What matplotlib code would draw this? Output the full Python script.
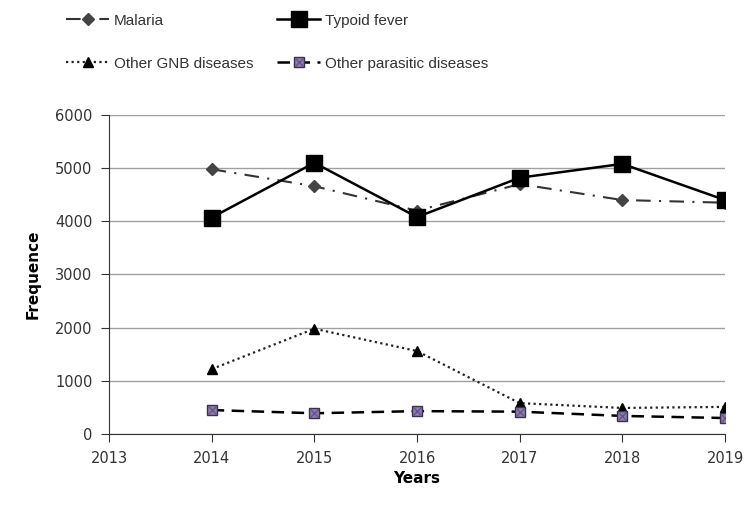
import matplotlib.pyplot as plt
from matplotlib.legend_handler import HandlerTuple

years = [2014, 2015, 2016, 2017, 2018, 2019]
malaria = [4980, 4660, 4200, 4700, 4400, 4350]
typhoid = [4070, 5100, 4080, 4820, 5080, 4400]
gnb = [1220, 1980, 1560, 580, 490, 510]
parasitic = [450, 390, 430, 420, 340, 300]

plt.rcParams['font.family'] = 'DejaVu Sans'

fig = plt.figure(figsize=(7.49, 5.11), dpi=100)
ax = fig.add_axes([0.1455, 0.1507, 0.8225, 0.6243])

l_mal, = ax.plot(years, malaria, color='#333333', lw=1.5, ls=(0, (7, 4, 1, 4)),
                 marker='D', ms=6, mfc='#444444', mec='#444444', label='Malaria')
l_typ, = ax.plot(years, typhoid, color='black', lw=1.8,
                 marker='s', ms=12, mfc='black', mec='black', label='Typoid fever')
l_gnb, = ax.plot(years, gnb, color='#222222', lw=1.6, ls=(0, (1, 1.5)),
                 marker='^', ms=7.5, mfc='black', mec='black', label='Other GNB diseases')
l_par, = ax.plot(years, parasitic, color='black', lw=1.8, ls=(0, (5, 3)),
                 marker='s', ms=7.5, mfc='#8a80a0', mec='#3a3050', label='Other parasitic diseases')
x_par, = ax.plot(years, parasitic, ls='none', marker='x', ms=5.5, mec='#6a4fa0', mew=1)

ax.set_xlim(2013, 2019)
ax.set_ylim(0, 6000)
ax.set_xticks(range(2013, 2020))
ax.set_yticks(range(0, 6001, 1000))
ax.yaxis.grid(True, color='#a0a0a0', lw=1)
ax.set_axisbelow(True)
for s in ['top', 'right']:
    ax.spines[s].set_visible(False)
for s in ['left', 'bottom']:
    ax.spines[s].set_color('#333333')
ax.tick_params(direction='out', length=6, color='#333333', labelcolor='#333333',
               labelsize=10.5, pad=6)
ax.set_xlabel('Years', fontweight='bold', fontsize=11)
ax.set_ylabel('Frequence', fontweight='bold', fontsize=11, labelpad=10)

fig.legend([l_mal, l_gnb, l_typ, (l_par, x_par)],
           ['Malaria', 'Other GNB diseases', 'Typoid fever', 'Other parasitic diseases'],
           handler_map={tuple: HandlerTuple(ndivide=1, pad=0)},
           ncol=2, loc='upper left', bbox_to_anchor=(0.07, 1.0), frameon=False,
           prop={'family': 'Liberation Sans', 'size': 11}, handlelength=2.8,
           columnspacing=1.6, labelspacing=1.9, handletextpad=0.3, labelcolor='#333333')

fig.savefig('out.png', dpi=100)
